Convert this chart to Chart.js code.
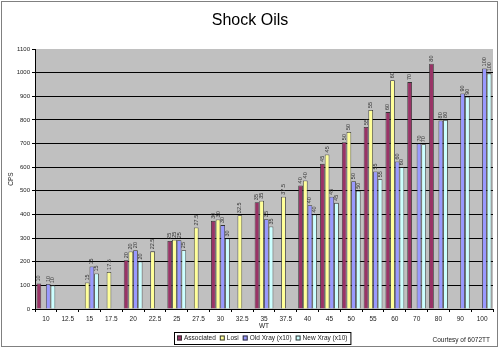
<!DOCTYPE html>
<html>
<head>
<meta charset="utf-8">
<script src="https://cdn.jsdelivr.net/npm/chart.js@4/dist/chart.umd.min.js"></script>
<style>
  html, body { margin: 0; padding: 0; background: #fff; }
  #wrap { width: 500px; height: 350px; position: relative; }
</style>
</head>
<body>
<div id="wrap"><canvas id="c" width="500" height="350"></canvas></div>
<script>
// WT categories along the x axis
const categories = ['10', '12.5', '15', '17.5', '20', '22.5', '25', '27.5', '30', '32.5',
  '35', '37.5', '40', '45', '50', '55', '60', '70', '80', '90', '100'];

// CPS readings per series (null = not measured)
const associated = [108, null, null, null, 206, null, 288, null, 373, null,
  452, null, 523, 614, 706, 770, 833, 960, 1038, null, null];
const losi = [null, null, 112, 157, 243, 244, 293, 345, 379, 397,
  458, 475, 544, 654, 749, 842, 968, null, null, null, null];
const oldXray = [106, null, 180, null, 249, null, 291, null, 355, null,
  380, null, 439, 475, 541, 582, 624, 700, 798, 912, 1018];
const newXray = [100, null, 150, null, 201, null, 249, null, 298, null,
  349, null, 400, 449, 500, 549, 600, 697, 800, 898, 997];

const seriesNames = ['Associated', 'Losi', 'Old Xray (x10)', 'New Xray (x10)'];
const yMin = 0, yMax = 1100, yStep = 100;

const FONT = '"Liberation Sans", Arial, sans-serif';
const colors = ['#993366', '#FFFF99', '#9999FF', '#CCFFFF'];

const mkSet = (i, data) => ({
  label: seriesNames[i],
  data: data,
  backgroundColor: colors[i],
  borderColor: '#333',
  borderWidth: 0.8,
  categoryPercentage: 0.86,
  barPercentage: 1.0
});

// gray plot background + outer frame, title, legend and credit line
const framePlugin = {
  id: 'frame',
  beforeDraw(chart) {
    const { ctx, chartArea: a } = chart;
    ctx.save();
    ctx.fillStyle = '#fff';
    ctx.fillRect(0, 0, chart.width, chart.height);
    ctx.fillStyle = '#C0C0C0';
    ctx.fillRect(a.left, a.top, a.right - a.left, a.bottom - a.top);
    ctx.restore();
  },
  afterDraw(chart) {
    const { ctx } = chart;
    ctx.save();
    ctx.strokeStyle = '#808080';
    ctx.lineWidth = 1;
    ctx.strokeRect(1.5, 1.5, 496, 345);

    // title
    ctx.fillStyle = '#000';
    ctx.font = '16px ' + FONT;
    ctx.textAlign = 'center';
    ctx.textBaseline = 'middle';
    ctx.fillText('Shock Oils', 250, 21);

    // legend
    ctx.font = '6.5px ' + FONT;
    ctx.textBaseline = 'middle';
    ctx.textAlign = 'left';
    const box = 5, gap = 2, itemGap = 4, padX = 3;
    const widths = seriesNames.map(n => box + gap + ctx.measureText(n).width);
    const total = widths.reduce((s, w) => s + w, 0) + itemGap * (seriesNames.length - 1) + padX * 2;
    const cx = 262, ly = 338;
    let x = Math.round(cx - total / 2);
    ctx.strokeStyle = '#000';
    ctx.strokeRect(x + 0.5, ly - 6 + 0.5, total, 12);
    x += padX;
    seriesNames.forEach((n, i) => {
      ctx.fillStyle = colors[i];
      ctx.fillRect(x, ly - box / 2, box, box);
      ctx.strokeStyle = '#333';
      ctx.strokeRect(x + 0.5, ly - box / 2 + 0.5, box - 1, box - 1);
      ctx.fillStyle = '#222';
      ctx.fillText(n, x + box + gap, ly + 0.5);
      x += widths[i] + itemGap;
    });

    // credit line
    ctx.textAlign = 'right';
    ctx.fillStyle = '#222';
    ctx.fillText('Courtesy of 6072TT', 490, 340);
    ctx.restore();
  }
};

// category name written vertically above each bar
const barLabelPlugin = {
  id: 'barLabels',
  afterDatasetsDraw(chart) {
    const { ctx } = chart;
    ctx.save();
    ctx.font = '5.5px ' + FONT;
    ctx.fillStyle = '#333';
    ctx.textAlign = 'left';
    ctx.textBaseline = 'middle';
    chart.data.datasets.forEach((ds, di) => {
      const meta = chart.getDatasetMeta(di);
      meta.data.forEach((el, i) => {
        if (ds.data[i] === null || ds.data[i] === undefined) return;
        ctx.save();
        ctx.translate(el.x, el.y - 2);
        ctx.rotate(-Math.PI / 2);
        ctx.fillText(chart.data.labels[i], 0, 0);
        ctx.restore();
      });
    });
    ctx.restore();
  }
};

new Chart(document.getElementById('c'), {
  type: 'bar',
  data: {
    labels: categories,
    datasets: [mkSet(0, associated), mkSet(1, losi), mkSet(2, oldXray), mkSet(3, newXray)]
  },
  options: {
    responsive: false,
    animation: false,
    devicePixelRatio: 1,
    layout: { padding: { top: 49, left: 0, right: 7, bottom: 0 } },
    plugins: {
      legend: { display: false },
      title: { display: false },
      tooltip: { enabled: false }
    },
    scales: {
      x: {
        offset: true,
        grid: { display: true, drawOnChartArea: false, offset: true, tickLength: 3, color: '#000' },
        border: { color: '#000', width: 1 },
        ticks: { font: { size: 6.5, family: FONT }, color: '#222', maxRotation: 0, autoSkip: false, padding: 3 },
        title: { display: true, text: 'WT', font: { size: 6.5, family: FONT }, color: '#222', padding: { top: 0, bottom: 20 } },
        afterFit(s) { s.height = 41; }
      },
      y: {
        min: yMin,
        max: yMax,
        ticks: {
          stepSize: yStep,
          font: { size: 6, family: FONT },
          color: '#222',
          padding: 2,
          callback: v => String(v)
        },
        grid: {
          color: c => (c.tick && c.tick.value === yMax) ? 'rgba(0,0,0,0)' : '#000',
          tickColor: '#000',
          tickLength: 3,
          lineWidth: 1
        },
        border: { color: '#000', width: 1 },
        title: { display: true, text: 'CPS', font: { size: 6.5, family: FONT }, color: '#222', padding: { top: 7, bottom: 0 } },
        afterFit(s) { s.width = 35; }
      }
    }
  },
  plugins: [framePlugin, barLabelPlugin]
});
</script>
</body>
</html>
